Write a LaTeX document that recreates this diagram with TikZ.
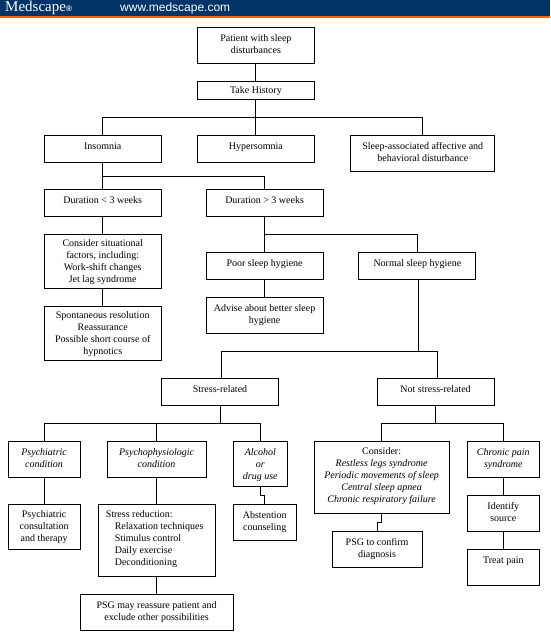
\documentclass[tikz,border=0pt]{standalone}
\usepackage{fontspec}
\setmainfont{Liberation Serif}
\newfontfamily\barfont{Liberation Sans}
\usetikzlibrary{positioning,calc}
\definecolor{barblue}{RGB}{0,51,102}
\definecolor{barorange}{RGB}{255,102,0}
\tikzset{
  rbox/.style n args={3}{rectangle, draw=black, line width=0.9pt, inner sep=0pt, outer sep=0pt,
               minimum width=#1pt, minimum height=#2pt, text depth=#3pt,
               align=center, font=\fontsize{10}{12}\selectfont},
  conn/.style={black, line width=0.9pt},
  bar/.style={rectangle, inner sep=0pt, outer sep=0pt, minimum width=550pt, anchor=north west},
}

\begin{document}
\begin{tikzpicture}[x=1pt, y=1pt]
    \useasboundingbox (0,0) rectangle (550,-640);
    \node[bar, fill=barblue, minimum height=16pt] (topbar) at (0,0) {};
    \node[bar, fill=barorange, minimum height=2pt] (topline) at (topbar.south west) {};
    \node[right=5pt of topbar.west, inner sep=0pt, text=white, font=\fontsize{15}{16}\selectfont] (brand) {Medscape{\barfont\bfseries\fontsize{8}{8}\selectfont\textregistered}};
    \node[right=120pt of topbar.west, inner sep=0pt, text=white, font=\barfont\fontsize{12}{14}\selectfont] (site) {www.medscape.com};

    \node[rbox={117}{36}{3}] (patient) at (255.9,-45.5) {Patient with sleep\\disturbances};
    \node[rbox={117}{18}{0}, below=18pt of patient] (take) {Take History};
    \node[rbox={117}{27}{6}, below=36pt of take] (hyper) {Hypersomnia};
    \node[rbox={117}{27}{6}, left=36.2pt of hyper] (insomnia) {Insomnia};
    \node[rbox={143.8}{36}{3}, right=36.5pt of hyper.north east, anchor=north west] (sleep) {Sleep-associated affective and\\behavioral disturbance};

    \node[rbox={117}{27}{6}, below=27pt of insomnia] (dshort) {Duration < 3 weeks};
    \node[rbox={117}{27}{6}, right=44.9pt of dshort] (dlong) {Duration > 3 weeks};
    \node[rbox={117}{54}{0}, below=18pt of dshort] (situ) {Consider situational\\factors, including:\\Work-shift changes\\Jet lag syndrome};
    \node[rbox={117}{54}{0}, below=18pt of situ] (spont) {Spontaneous resolution\\Reassurance\\Possible short course of\\hypnotics};
    \node[rbox={117}{27}{6}, below=36pt of dlong] (poor) {Poor sleep hygiene};
    \node[rbox={117}{27}{6}, right=35.8pt of poor] (normal) {Normal sleep hygiene};
    \node[rbox={117}{36}{3}, below=18pt of poor] (advise) {Advise about better sleep\\hygiene};

    \node[rbox={117}{27}{6}, below=45pt of advise, xshift=-44.6pt] (stress) {Stress-related};
    \node[rbox={117}{27}{6}, right=98.6pt of stress] (notstress) {Not stress-related};

    \node[rbox={99}{36}{3}, below=36pt of stress, xshift=-63.4pt] (physio) {\textit{Psychophysiologic}\\\textit{condition}};
    \node[rbox={72}{36}{3}, left=27pt of physio] (psych) {\textit{Psychiatric}\\\textit{condition}};
    \node[rbox={54.4}{45}{0}, right=27pt of physio.north east, anchor=north west] (alcohol) {\textit{Alcohol}\\\textit{or}\\\textit{drug use}};
    \node[rbox={72}{45}{1}, below=27pt of psych] (psycons) {Psychiatric\\consultation\\and therapy};
    \node[rbox={117}{72}{4}, below=27pt of physio, align=left] (reduce) {Stress reduction:\\
        \hspace*{9pt}Relaxation techniques\rule{4pt}{0pt}\\\hspace*{9pt}Stimulus control\\\hspace*{9pt}Daily exercise\\\hspace*{9pt}Deconditioning};
    \node[rbox={153}{36}{3}, below=18pt of reduce] (psgmay) {PSG may reassure patient and\\exclude other possibilities};
    \node[rbox={63.4}{36}{3}, below=18pt of alcohol.south west, anchor=north west] (abstain) {Abstention\\counseling};

    \node[rbox={135}{72}{4}, below=36pt of notstress, xshift=-54pt] (consider) {Consider:\\\textit{Restless legs syndrome}\\\textit{Periodic movements of sleep}\\\textit{Central sleep apnea}\\\textit{Chronic respiratory failure}};
    \node[rbox={90}{36}{3}, below=18pt of consider, xshift=-4.5pt] (psgconf) {PSG to confirm\\diagnosis};
    \node[rbox={72.4}{36}{3}, right=18pt of consider.north east, anchor=north west] (chronic) {\textit{Chronic pain}\\\textit{syndrome}};
    \node[rbox={72.4}{36}{3}, below=18pt of chronic] (identify) {Identify\\source};
    \node[rbox={72.4}{36}{15}, below=18pt of identify] (treat) {Treat pain};

    \coordinate[below=18pt of take] (busa);
    \coordinate[below=14pt of insomnia] (busb);
    \coordinate[below=18pt of dlong] (busc);
    \coordinate[below=18pt of stress] (buse);
    \coordinate[below=18pt of notstress] (busf);
    \coordinate (busd) at ($(normal.south)+(1.2,-72)$);

    \draw[conn] (patient) -- (take);
    \draw[conn] (take) -- (hyper);
    \draw[conn] (busa) -| (insomnia);
    \draw[conn] (busa) -| (sleep);
    \draw[conn] (insomnia) -- (dshort);
    \draw[conn] (busb) -| (dlong);
    \draw[conn] (dshort) -- (situ);
    \draw[conn] (situ) -- (spont);
    \draw[conn] (dlong) -- (poor);
    \draw[conn] (busc) -| (normal);
    \draw[conn] (poor) -- (advise);
    \draw[conn] (busd) -- (busd |- normal.south);
    \draw[conn] ([xshift=1.5pt]stress.north) |- (busd);
    \draw[conn] ([xshift=1.5pt]notstress.north) |- (busd);
    \draw[conn] (stress) -- (buse);
    \draw[conn] (buse) -| (psych);
    \draw[conn] (buse) -| (physio);
    \draw[conn] (buse) -| (alcohol);
    \draw[conn] (psych) -- (psycons);
    \draw[conn] (physio) -- (reduce);
    \draw[conn] (reduce) -- (psgmay);
    \draw[conn] (alcohol.south) -- ++(0,-9) -| (abstain.north);
    \draw[conn] (notstress) -- (busf);
    \draw[conn] (busf) -| (consider);
    \draw[conn] (busf) -| (chronic);
    \draw[conn] (consider.south) -- ++(0,-9) -| (psgconf.north);
    \draw[conn] (chronic) -- (identify);
    \draw[conn] (identify) -- (treat);
\end{tikzpicture}
\end{document}
